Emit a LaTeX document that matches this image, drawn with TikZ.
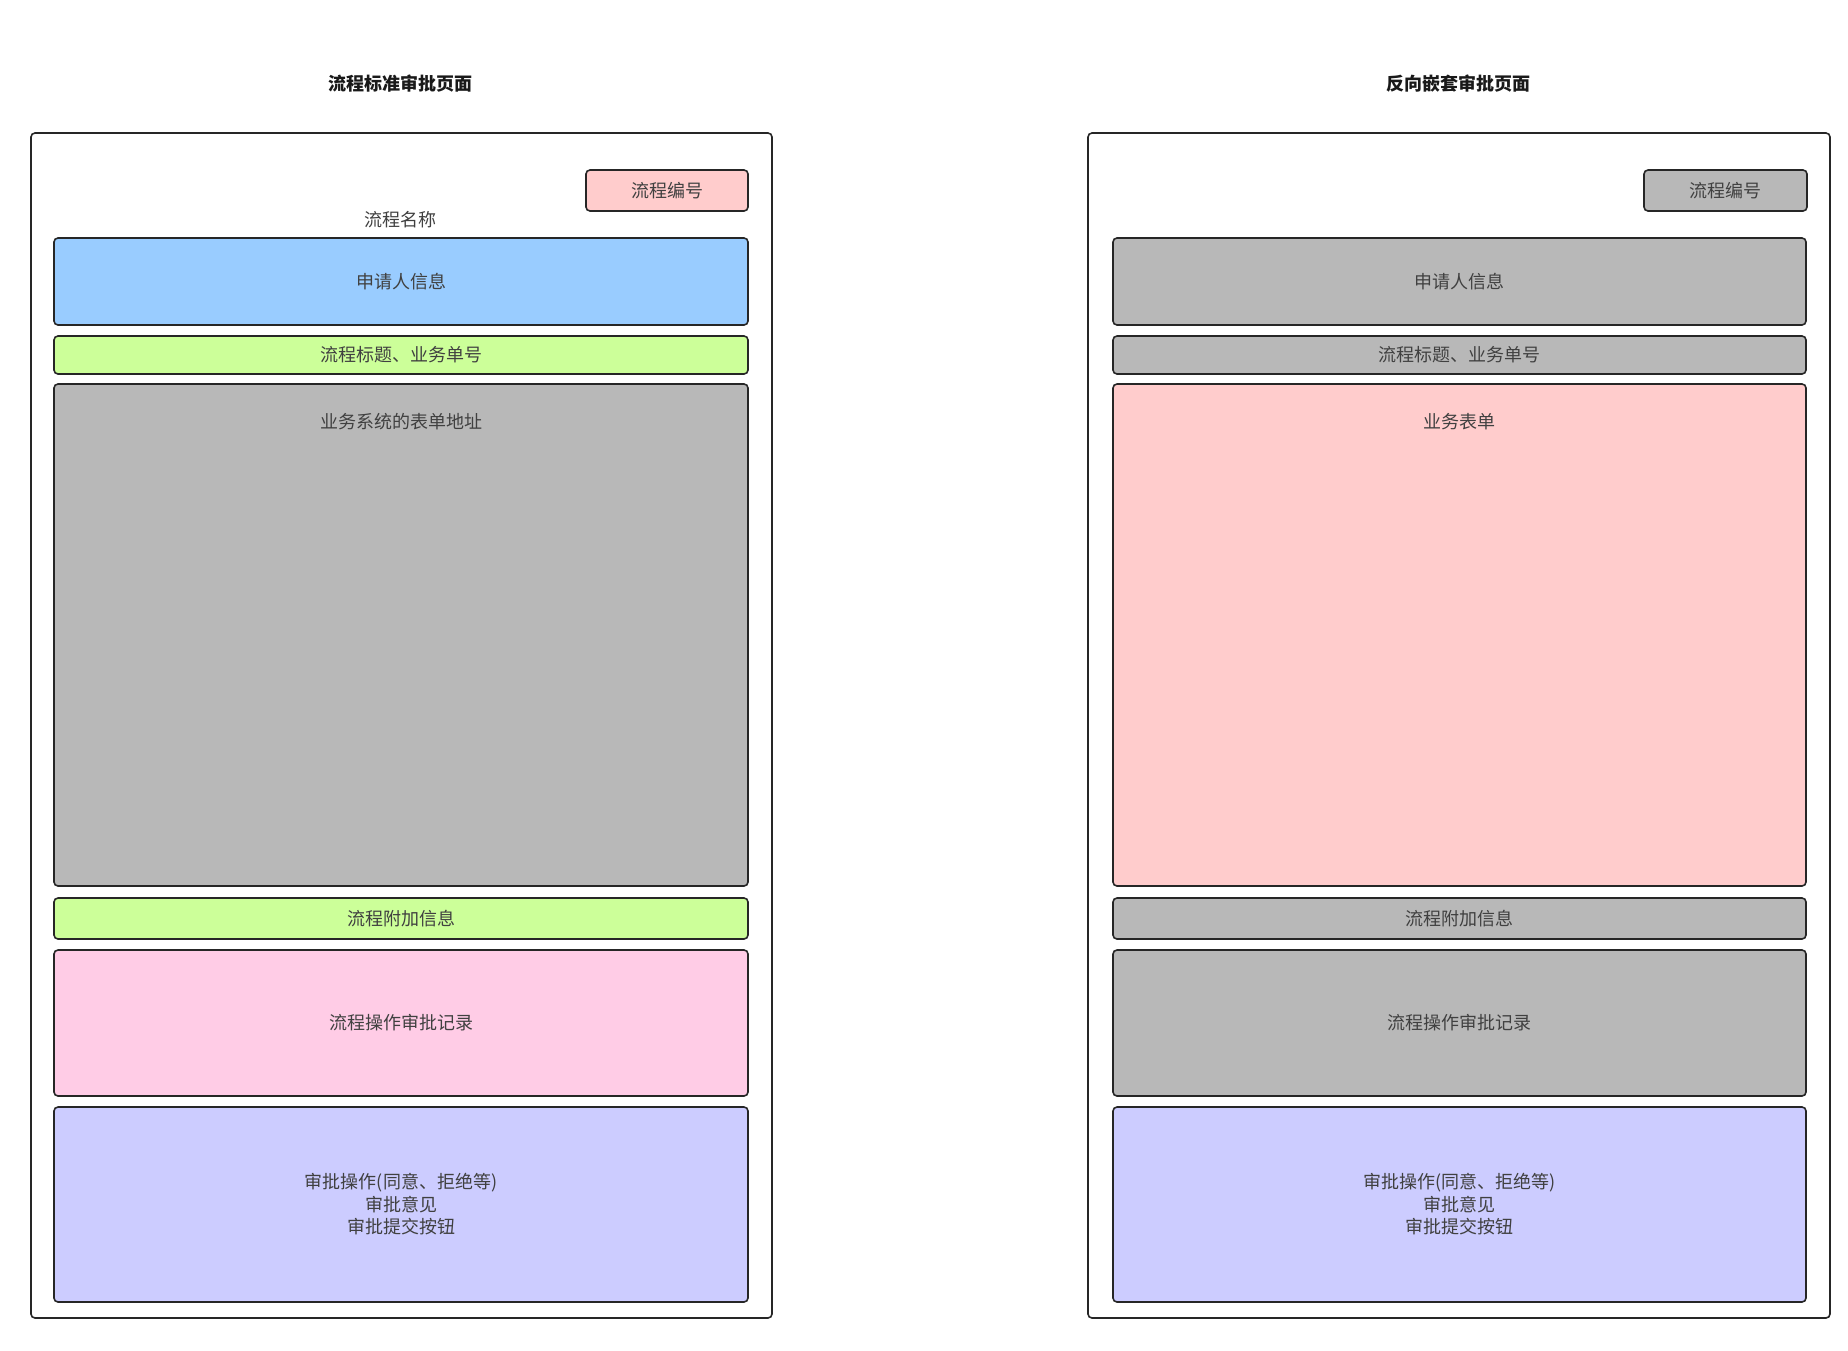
\documentclass[tikz,border=0pt]{standalone}
\usepackage{fontspec}
\setmainfont{Noto Sans CJK SC}
\begin{document}
\begin{tikzpicture}[x=1pt,y=-1pt,
  frame/.style={draw=black!85,line width=1.6pt,rounded corners=4pt,fill=white},
  panel/.style={draw=black!85,line width=1.6pt,rounded corners=4pt,font=\fontsize{18}{22.5}\selectfont,text=black!75,align=center},
  heading/.style={font=\fontsize{18}{22}\selectfont\bfseries,text=black!90},
  plain/.style={font=\fontsize{18}{22}\selectfont,text=black!75}]
\definecolor{cblue}{HTML}{99CCFF}
\definecolor{cgreen}{HTML}{CCFF99}
\definecolor{cgray}{HTML}{B8B8B8}
\definecolor{cpink}{HTML}{FFCCCC}
\definecolor{crose}{HTML}{FFCCE6}
\definecolor{clav}{HTML}{CCCCFF}
\useasboundingbox (0,0) rectangle (1848,1350);

% ---- standard approval page ----
\node[heading] (tl) at (400,84) {流程标准审批页面};
\draw[frame] (31,133) rectangle (772,1318);
\path[panel,fill=cpink] (586,170) rectangle node (lnum) {流程编号} (748,211);
\node[plain] (lname) at (400,220) {流程名称};
\path[panel,fill=cblue] (54,238) rectangle node (lapp) {申请人信息} (748,325);
\path[panel,fill=cgreen] (54,336) rectangle node (ltit) {流程标题、业务单号} (748,374);
\path[panel,fill=cgray] (54,384) rectangle (748,886);
\node[plain] (lform) at (401,422) {业务系统的表单地址};
\path[panel,fill=cgreen] (54,898) rectangle node (lext) {流程附加信息} (748,939);
\path[panel,fill=crose] (54,950) rectangle node (lrec) {流程操作审批记录} (748,1096);
\path[panel,fill=clav] (54,1107) rectangle node (lact) {审批操作(同意、拒绝等)\\审批意见\\审批提交按钮} (748,1302);

% ---- reverse nested approval page ----
\node[heading] (tr) at (1458,84) {反向嵌套审批页面};
\draw[frame] (1088,133) rectangle (1830,1318);
\path[panel,fill=cgray] (1644,170) rectangle node (rnum) {流程编号} (1807,211);
\path[panel,fill=cgray] (1113,238) rectangle node (rapp) {申请人信息} (1806,325);
\path[panel,fill=cgray] (1113,336) rectangle node (rtit) {流程标题、业务单号} (1806,374);
\path[panel,fill=cpink] (1113,384) rectangle (1806,886);
\node[plain] (rform) at (1459,422) {业务表单};
\path[panel,fill=cgray] (1113,898) rectangle node (rext) {流程附加信息} (1806,939);
\path[panel,fill=cgray] (1113,950) rectangle node (rrec) {流程操作审批记录} (1806,1096);
\path[panel,fill=clav] (1113,1107) rectangle node (ract) {审批操作(同意、拒绝等)\\审批意见\\审批提交按钮} (1806,1302);
\end{tikzpicture}
\end{document}
